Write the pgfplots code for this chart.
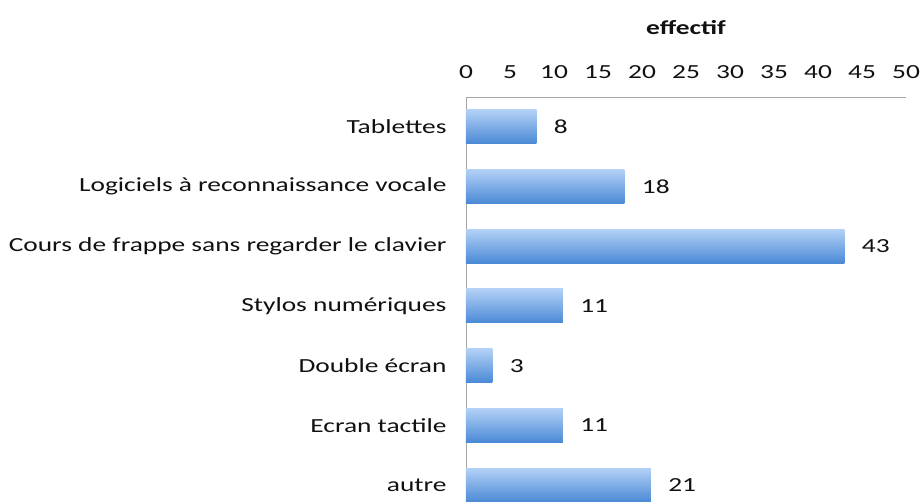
\documentclass[border=0pt]{standalone}
\usepackage{pgfplots}
\pgfplotsset{compat=1.18}
\usepackage{fontspec}
\setmainfont{Carlito}[FakeStretch=1.37]
\definecolor{bartop}{HTML}{B3D1F6}
\definecolor{barmid}{HTML}{80B1EC}
\definecolor{barbot}{HTML}{4A89D6}
\definecolor{txt}{HTML}{111111}
\begin{document}
\begin{tikzpicture}
\begin{axis}[name=ax,
  scale only axis, width=440bp, height=406bp,
  xbar, bar width=34bp, bar shift=0pt,
  xmin=0, xmax=50, ymin=-0.3, ymax=6.5,
  xtick={0,5,...,50},
  ytick={0,...,6},
  yticklabels={autre,Ecran tactile,Double écran,Stylos numériques,Cours de frappe sans regarder le clavier,Logiciels à reconnaissance vocale,Tablettes},
  axis x line*=top, axis y line*=left,
  axis line style={-, draw=gray!70, line width=0.8bp},
  major tick length=0pt,
  xlabel={\textbf{effectif}},
  xlabel style={yshift=24bp},
  xticklabel style={yshift=15bp},
  yticklabel style={xshift=-16bp},
  tick label style={font=\fontsize{20bp}{23bp}\selectfont, text=txt},
  label style={font=\fontsize{20bp}{23bp}\selectfont, text=txt},
  /pgf/number format/assume math mode=true,
  nodes near coords,
  every node near coord/.append style={font=\fontsize{20bp}{23bp}\selectfont, text=txt, xshift=14bp},
  every axis plot/.append style={draw=none, top color=bartop, middle color=barmid, bottom color=barbot},
  clip=false,
]
\addplot coordinates {(21,0)};
\addplot coordinates {(11,1)};
\addplot coordinates {(3,2)};
\addplot coordinates {(11,3)};
\addplot coordinates {(43,4)};
\addplot coordinates {(18,5)};
\addplot coordinates {(8,6)};
\end{axis}
\pgfresetboundingbox
\path ([xshift=-466bp,yshift=1bp]ax.south west) rectangle ([xshift=18bp,yshift=97bp]ax.north east);
\end{tikzpicture}
\end{document}
